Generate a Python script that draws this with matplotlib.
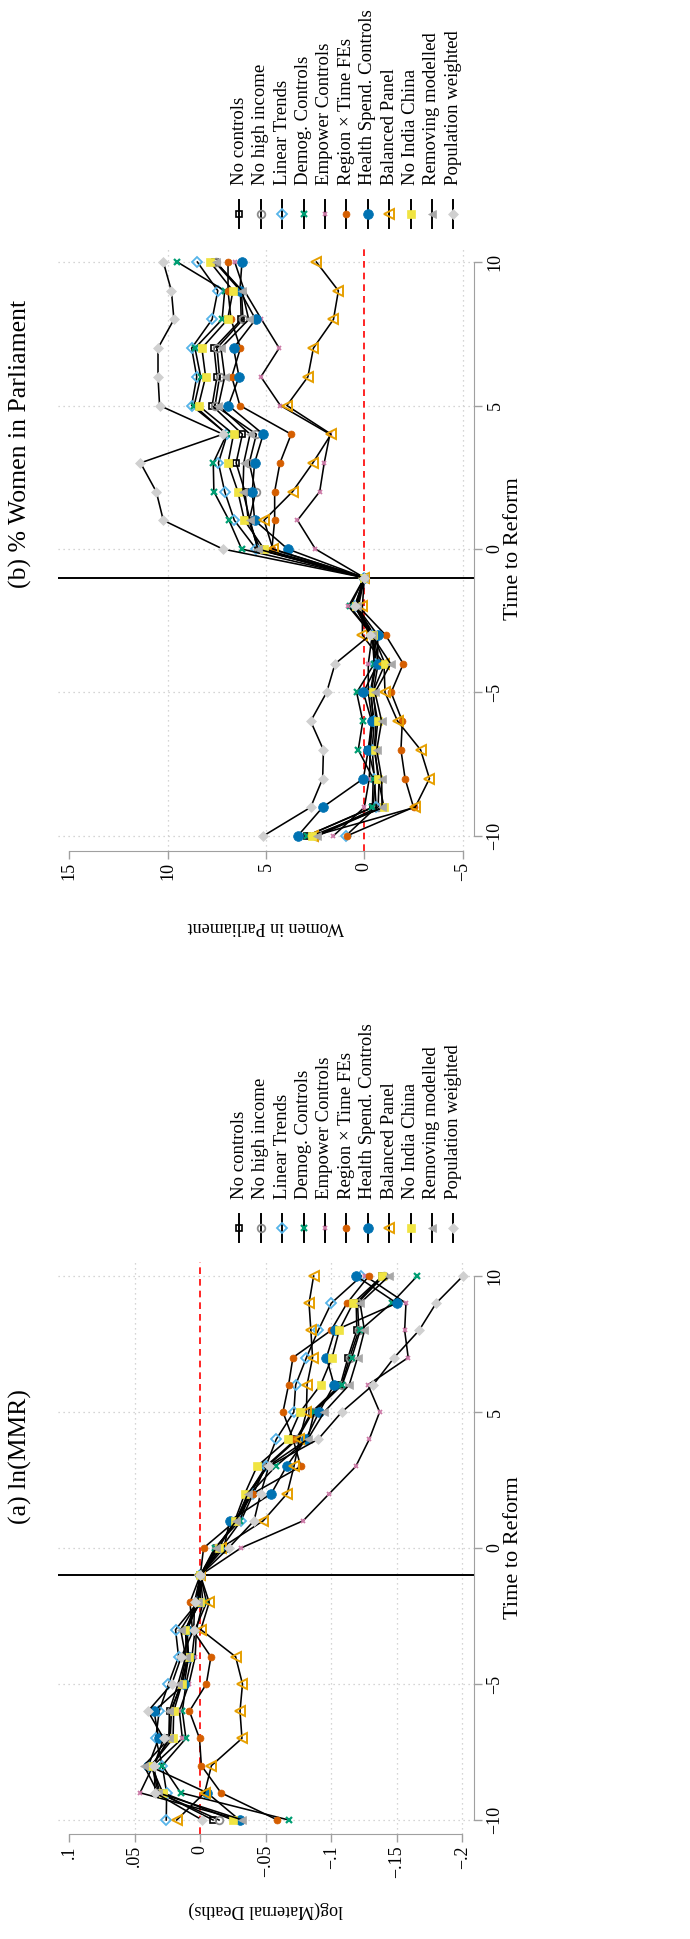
import matplotlib
matplotlib.use("Agg")
import matplotlib.pyplot as plt
from matplotlib.lines import Line2D

plt.rcParams['font.family'] = ['Liberation Serif', 'DejaVu Serif']

# ---------------- data ----------------
time = list(range(-10, 11))

series_labels = ["No controls", "No high income", "Linear Trends", "Demog. Controls",
                 "Empower Controls", "Region × Time FEs", "Health Spend. Controls",
                 "Balanced Panel", "No India China", "Removing modelled", "Population weighted"]

# Panel (a): log(Maternal Deaths)
mmr_no_controls = [-0.0097, 0.031, 0.036, 0.024, 0.023, 0.014, 0.010, 0.010, 0.002, 0.0, -0.013, -0.027, -0.037, -0.050, -0.073, -0.085, -0.107, -0.1127, -0.1195, -0.119, -0.139]
mmr_no_high_income = [-0.0143, 0.032, 0.037, 0.023, 0.022, 0.015, 0.011, 0.011, 0.003, 0.0, -0.012, -0.028, -0.038, -0.051, -0.074, -0.0859, -0.108, -0.114, -0.121, -0.120, -0.140]
mmr_linear_trends = [0.026, 0.0257, 0.029, 0.034, 0.0314, 0.0243, 0.0166, 0.0189, 0.002, 0.0, -0.016, -0.031, -0.0404, -0.050, -0.058, -0.0714, -0.0728, -0.081, -0.090, -0.100, -0.123]
mmr_demog = [-0.0675, 0.015, 0.029, 0.011, 0.0137, 0.011, 0.0064, 0.004, -0.0048, 0.0, -0.011, -0.030, -0.038, -0.0575, -0.082, -0.087, -0.1083, -0.1156, -0.122, -0.146, -0.1656]
mmr_empower = [-0.031, 0.046, 0.036, 0.0137, 0.016, 0.0087, 0.0039, 0.003, -0.002, 0.0, -0.031, -0.0785, -0.0985, -0.1187, -0.129, -0.1369, -0.128, -0.1587, -0.156, -0.157, -0.126]
mmr_region_time = [-0.0589, -0.0158, -0.0008, 0.0006, 0.0083, -0.0046, -0.0081, 0.006, 0.0079, 0.0, -0.0025, -0.027, -0.040, -0.0767, -0.0708, -0.0631, -0.0674, -0.0707, -0.0998, -0.112, -0.1286]
mmr_health = [-0.030, -0.0052, 0.0396, 0.0318, 0.0353, 0.0122, 0.009, 0.010, 0.001, 0.0, -0.018, -0.0225, -0.0542, -0.0658, -0.0805, -0.0907, -0.1021, -0.0963, -0.1027, -0.150, -0.119]
mmr_balanced = [0.018, -0.0033, -0.0085, -0.0318, -0.0303, -0.0322, -0.027, -0.0004, -0.0068, 0.0, -0.0158, -0.048, -0.0663, -0.0715, -0.0757, -0.081, -0.0815, -0.0857, -0.0844, -0.083, -0.0865]
mmr_no_india_china = [-0.025, 0.0286, 0.0376, 0.0208, 0.0203, 0.0141, 0.0087, 0.0118, 0.0, 0.0, -0.014, -0.0263, -0.034, -0.0433, -0.067, -0.0762, -0.0919, -0.1006, -0.106, -0.1166, -0.139]
mmr_removing = [-0.0322, 0.0324, 0.043, 0.0237, 0.0237, 0.017, 0.0112, 0.015, 0.002, 0.0, -0.012, -0.0273, -0.0363, -0.0515, -0.082, -0.0946, -0.1137, -0.120, -0.1253, -0.122, -0.144]
mmr_pop_weighted = [-0.0014, 0.0344, 0.0353, 0.028, 0.040, 0.0218, 0.0145, 0.005, 0.0044, 0.0, -0.0216, -0.041, -0.046, -0.0523, -0.090, -0.108, -0.132, -0.148, -0.167, -0.180, -0.2005]

# Panel (b): Women in Parliament
wp_no_controls = [2.93, -0.45, -0.55, -0.20, -0.45, -0.35, -0.6, -0.45, 0.45, 0.0, 5.3, 5.9, 6.07, 6.52, 6.20, 7.74, 7.49, 7.64, 6.26, 6.3, 7.6]
wp_no_high_income = [2.45, -0.7, -0.75, -0.5, -0.6, -0.45, -0.7, -0.5, 0.4, 0.0, 5.4, 5.85, 5.52, 5.85, 5.49, 7.59, 7.36, 7.49, 6.17, 6.25, 7.55]
wp_linear_trends = [0.95, -0.6, -0.51, -0.4, -0.5, -0.3, -0.55, -0.4, 0.5, 0.0, 5.5, 6.61, 7.10, 7.42, 6.97, 8.78, 8.52, 8.78, 7.74, 7.45, 8.49]
wp_demog = [2.93, -0.41, -0.45, 0.31, 0.08, 0.39, -0.5, -0.4, 0.73, 0.0, 6.24, 6.88, 7.65, 7.68, 7.0, 8.65, 8.32, 8.61, 7.23, 7.10, 9.51]
wp_empower = [1.58, 0.0, -0.25, -0.3, -0.4, -0.2, -0.20, -0.4, 0.81, 0.0, 2.49, 3.40, 2.27, 2.04, 1.75, 4.27, 5.26, 4.33, 5.23, 6.1, 6.59]
wp_region_time = [0.90, -2.5, -2.07, -1.86, -1.93, -1.36, -1.98, -1.08, 0.3, 0.0, 4.7, 4.56, 4.56, 4.29, 3.72, 6.33, 6.74, 6.30, 6.78, 6.93, 6.93]
wp_health = [3.39, 2.12, 0.05, -0.20, -0.37, 0.05, -0.68, -0.68, 0.4, 0.0, 3.90, 5.58, 5.7, 5.58, 5.14, 6.91, 6.37, 6.65, 5.53, 6.33, 6.22]
wp_balanced = [2.59, -2.58, -3.31, -2.86, -1.69, -1.05, -1.0, 0.10, 0.10, 0.0, 4.65, 5.10, 3.65, 2.62, 1.69, 3.94, 2.87, 2.59, 1.57, 1.32, 2.44]
wp_no_india_china = [2.68, -1.0, -0.7, -0.54, -0.68, -0.42, -1.05, -0.45, 0.4, 0.0, 5.10, 6.10, 6.43, 6.93, 6.65, 8.43, 8.07, 8.26, 6.95, 6.68, 7.84]
wp_removing = [2.39, -0.9, -0.88, -0.63, -0.88, -0.54, -1.34, -0.37, 0.39, 0.0, 5.42, 5.81, 6.17, 6.13, 5.81, 7.42, 7.10, 7.29, 5.88, 6.22, 7.55]
wp_pop_weighted = [5.14, 2.73, 2.12, 2.08, 2.73, 1.92, 1.49, -0.29, 0.47, 0.0, 7.20, 10.22, 10.58, 11.38, 7.19, 10.41, 10.49, 10.49, 9.68, 9.81, 10.22]

mmr_series = [mmr_no_controls, mmr_no_high_income, mmr_linear_trends, mmr_demog, mmr_empower,
              mmr_region_time, mmr_health, mmr_balanced, mmr_no_india_china, mmr_removing, mmr_pop_weighted]
wp_series = [wp_no_controls, wp_no_high_income, wp_linear_trends, wp_demog, wp_empower,
             wp_region_time, wp_health, wp_balanced, wp_no_india_china, wp_removing, wp_pop_weighted]

time_ticks = [-10, -5, 0, 5, 10]
time_ticklabels = ["\u221210", "\u22125", "0", "5", "10"]
mmr_ticks = [0.1, 0.05, 0.0, -0.05, -0.1, -0.15, -0.2]
mmr_ticklabels = [".1", ".05", "0", "\u2212.05", "\u2212.1", "\u2212.15", "\u2212.2"]
wp_ticks = [15, 10, 5, 0, -5]
wp_ticklabels = ["15", "10", "5", "0", "\u22125"]

# ---------------- styles ----------------
styles = [
    dict(marker='s', mfc='none', mec='black', ms=5, mew=1.2),
    dict(marker='o', mfc='none', mec='#8C8C8C', ms=5.5, mew=1.3),
    dict(marker='D', mfc='none', mec='#56B4E9', ms=5.5, mew=1.3),
    dict(marker='x', mfc='#009E73', mec='#009E73', ms=5, mew=1.6),
    dict(marker='x', mfc='#CC79A7', mec='#CC79A7', ms=3.5, mew=1.3),
    dict(marker='o', mfc='#D55E00', mec='#D55E00', ms=5, mew=0.5),
    dict(marker='o', mfc='#0072B2', mec='#0072B2', ms=7, mew=0.5),
    dict(marker='<', mfc='none', mec='#E69F00', ms=7, mew=1.4),
    dict(marker='s', mfc='#F0E442', mec='#F0E442', ms=5.5, mew=0.5),
    dict(marker='<', mfc='#A8A8A8', mec='#A8A8A8', ms=6, mew=0.5),
    dict(marker='D', mfc='#D0D0D0', mec='#D0D0D0', ms=5.5, mew=0.5),
]

W, H = 690, 1939
fig = plt.figure(figsize=(W / 100, H / 100), dpi=100)


def fx(px):
    return px / W


def fy(py):
    return 1 - py / H


AX_GRAY = '#A0A0A0'
GRID = '#C8C8C8'
TICK_FS = 13
LEG_FS = 13.5
YT_FS = 13
XT_FS = 16
TITLE_FS = 18.5


def make_panel(top, bottom, xlim, ylim, vticks, vlabels, series, title, title_y, ytitle):
    ax = fig.add_axes([fx(58), fy(bottom), fx(474) - fx(58), (bottom - top) / H])
    ax.set_xlim(*xlim)
    ax.set_ylim(*ylim)
    for s in ['left', 'top']:
        ax.spines[s].set_visible(False)
    ax.spines['bottom'].set_color(AX_GRAY)
    ax.spines['right'].set_color(AX_GRAY)
    ax.spines['bottom'].set_bounds(min(vticks), max(vticks))
    ax.spines['right'].set_bounds(min(time_ticks), max(time_ticks))
    ax.yaxis.tick_right()
    ax.set_xticks(vticks)
    ax.set_xticklabels(vlabels)
    ax.set_yticks(time_ticks)
    ax.set_yticklabels(time_ticklabels)
    ax.tick_params(axis='x', direction='out', length=6, width=1, color=AX_GRAY,
                   labelsize=TICK_FS, labelrotation=90, pad=2)
    ax.tick_params(axis='y', direction='out', length=6, width=1, color=AX_GRAY,
                   labelsize=TICK_FS, labelrotation=90, pad=3)
    for lab in ax.get_yticklabels():
        lab.set_va('center')
        lab.set_ha('left')
    # grid
    for v in vticks:
        if v != max(vticks) and v != 0:
            ax.axvline(v, color=GRID, lw=0.9, ls=(0, (1, 3)), zorder=0)
    for t in time_ticks:
        ax.axhline(t, color=GRID, lw=0.9, ls=(0, (1, 3)), zorder=0)
    ax.axvline(0, color='red', lw=1.2, ls=(0, (4, 3)), zorder=1)
    ax.axhline(-1, color='black', lw=1.4, zorder=1)
    for k, (vals, st) in enumerate(zip(series, styles)):
        ax.plot(vals, time, color='black', lw=1.15, zorder=2 + k, **st)
    # texts
    fig.text(fx(20), fy(title_y), title, rotation=90, ha='center', va='center', fontsize=TITLE_FS)
    mid = (top + bottom) / 2
    fig.text(fx(514), fy(mid), "Time to Reform", rotation=90, ha='center', va='center', fontsize=XT_FS)
    fig.text(fx(266), fy(bottom + 76), ytitle, rotation=180, ha='center', va='center', fontsize=YT_FS)
    return ax


def legend(marker_y, text_bottom):
    for i, (lab, st) in enumerate(zip(series_labels, styles)):
        x = fx(239.3 + 21.4 * i)
        fig.add_artist(Line2D([x, x], [fy(marker_y - 14), fy(marker_y + 14)],
                              color='black', lw=1.4, transform=fig.transFigure))
        fig.add_artist(Line2D([x], [fy(marker_y)], transform=fig.transFigure, ls='none', **st))
        fig.text(x, fy(text_bottom), lab, rotation=90, ha='center', va='bottom', fontsize=LEG_FS)


# Panel (a)
axA = make_panel(1262, 1834, (0.10863, -0.20893), (-10.515, 10.515), mmr_ticks, mmr_ticklabels,
                 mmr_series, "(a) ln(MMR)", 1457, "log(Maternal Deaths)")
legend(1228, 1199)

# Panel (b)
axB = make_panel(247, 851, (15.574, -5.574), (-10.523, 10.523), wp_ticks, wp_ticklabels,
                 wp_series, "(b) % Women in Parliament", 444, "Women in Parliament")
legend(214, 185)

fig.savefig("out.png", dpi=100)
